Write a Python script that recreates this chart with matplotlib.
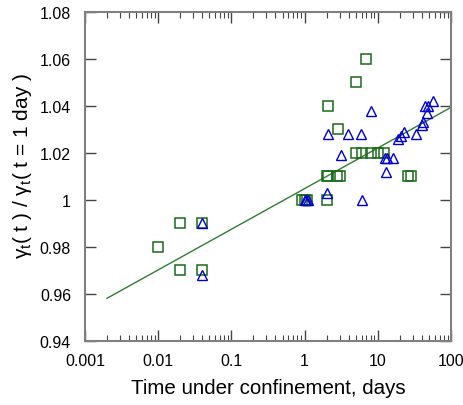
import numpy as np
import matplotlib
matplotlib.use("Agg")
import matplotlib.pyplot as plt
from matplotlib.ticker import FixedLocator, FixedFormatter, LogLocator, NullFormatter

plt.rcParams['font.family'] = ['Liberation Sans', 'DejaVu Sans']
plt.rcParams['mathtext.fontset'] = 'custom'
plt.rcParams['mathtext.rm'] = 'Liberation Sans'
plt.rcParams['mathtext.it'] = 'Liberation Sans'
plt.rcParams['mathtext.default'] = 'regular'

# Squares (green)
sq_t = [0.01, 0.02, 0.02, 0.04, 0.04, 0.92, 1.0, 1.07, 2.0,
        2.0, 2.1, 2.8, 3.0, 5.0, 6.0, 8.0, 10.0, 12.0, 26.0, 28.0,
        2.1, 2.9, 5.0, 7.0]
sq_g = [0.98, 0.99, 0.97, 0.99, 0.97, 1.0, 1.0, 1.0, 1.0,
        1.01, 1.01, 1.01, 1.01, 1.02, 1.02, 1.02, 1.02, 1.02, 1.01, 1.01,
        1.04, 1.03, 1.05, 1.06]

# Triangles (blue)
tr_t = [0.04, 0.04, 1.0, 1.05, 1.1, 2.0, 6.0, 3.1, 2.1, 3.9, 5.9, 8.0,
        12.5, 13.5, 16.3, 13.0, 19.0, 21.0, 23.0, 33.0, 40.0, 42.0,
        46.5, 44.5, 49.0, 56.0]
tr_g = [0.99, 0.968, 1.0, 1.0, 1.0, 1.003, 1.0, 1.019, 1.028, 1.028, 1.028, 1.038,
        1.018, 1.018, 1.018, 1.012, 1.026, 1.027, 1.029, 1.028, 1.032, 1.033,
        1.037, 1.04, 1.04, 1.042]

# Fit line
fit_t = [0.002, 100.0]
fit_a = 1.0048
fit_b = 0.0173

xticks = [0.001, 0.01, 0.1, 1, 10, 100]
xticklabels = ['0.001', '0.01', '0.1', '1', '10', '100']
yticks = [0.94, 0.96, 0.98, 1.0, 1.02, 1.04, 1.06, 1.08]
yticklabels = ['0.94', '0.96', '0.98', '1', '1.02', '1.04', '1.06', '1.08']

fig = plt.figure(figsize=(4.64, 4.06), dpi=100)
ax = fig.add_axes([0.183, 0.158, 0.789, 0.810])

fit_y = [fit_a + fit_b * np.log10(t) for t in fit_t]
ax.plot(fit_t, fit_y, color='#2e7d32', lw=1.0, zorder=1)

ax.plot(sq_t, sq_g, linestyle='none', marker='s', markersize=7.5,
        markerfacecolor='none', markeredgecolor='#1a6b1a', markeredgewidth=1.1, zorder=2)
ax.plot(tr_t, tr_g, linestyle='none', marker='^', markersize=7.5,
        markerfacecolor='none', markeredgecolor='#0000cc', markeredgewidth=1.0, zorder=3)

ax.set_xscale('log')
ax.set_xlim(0.001, 100)
ax.set_ylim(0.94, 1.08)
ax.xaxis.set_major_locator(FixedLocator(xticks))
ax.xaxis.set_major_formatter(FixedFormatter(xticklabels))
ax.xaxis.set_minor_locator(LogLocator(base=10, subs=np.arange(2, 10), numticks=20))
ax.xaxis.set_minor_formatter(NullFormatter())
ax.yaxis.set_major_locator(FixedLocator(yticks))
ax.yaxis.set_major_formatter(FixedFormatter(yticklabels))

for s in ax.spines.values():
    s.set_color('#808080')
    s.set_linewidth(1.5)

ax.tick_params(which='major', direction='in', length=8, width=1.0, color='#444444',
               top=True, right=True, labelsize=11.5, pad=9)
ax.tick_params(axis='y', which='major', pad=10)
ax.tick_params(which='minor', direction='in', length=4, width=0.8, color='#444444',
               top=True, right=True)

ax.set_xlabel('Time under confinement, days', fontsize=14.8, labelpad=7)
ax.set_ylabel('$γ_t$( t ) / $γ_t$( t = 1 day )', fontsize=15)
ax.yaxis.set_label_coords(-0.14, 0.535)

fig.savefig('out.png', dpi=100)
